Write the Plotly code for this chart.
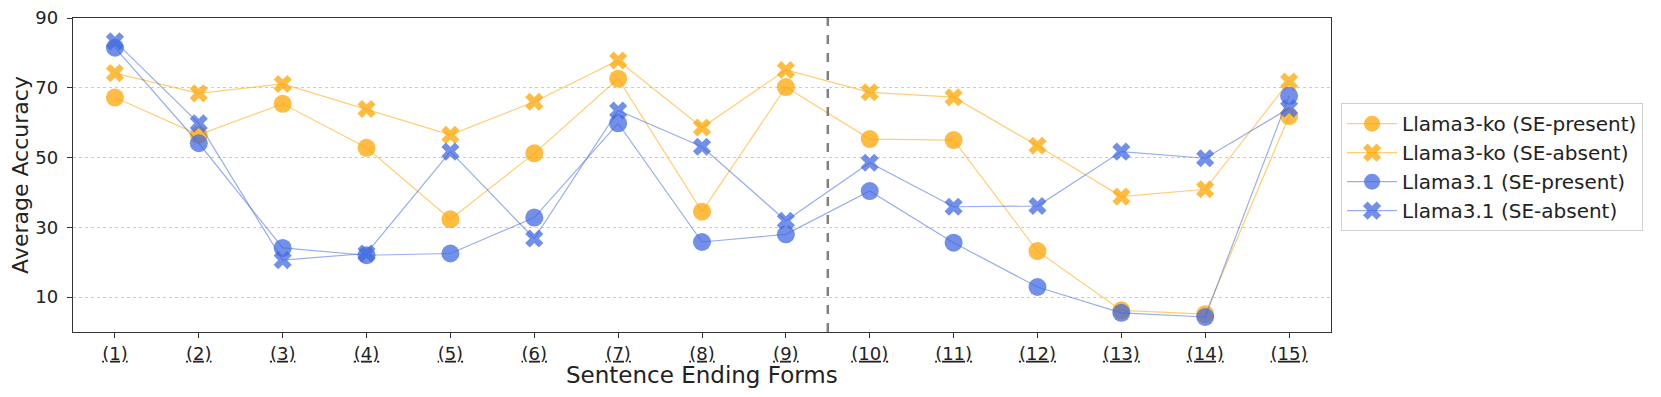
import plotly.graph_objects as go

# sentence ending forms (1)..(15)
forms = list(range(1, 16))
form_labels = ["<u>(%d)</u>" % i for i in forms]

ko_present = [67.2, 56.5, 65.4, 52.8, 32.3, 51.2, 72.6, 34.5, 70.2, 55.3, 55.0, 23.2, 6.2, 5.1, 61.9]
ko_absent = [74.2, 68.4, 71.1, 63.9, 56.5, 66.0, 77.8, 58.6, 75.1, 68.7, 67.3, 53.4, 38.8, 40.9, 71.8]
l31_present = [81.5, 54.1, 24.1, 22.0, 22.5, 32.8, 59.8, 25.8, 28.0, 40.4, 25.6, 12.9, 5.5, 4.3, 67.7]
l31_absent = [83.3, 59.8, 20.6, 22.5, 51.7, 26.8, 63.5, 53.1, 31.9, 48.5, 35.9, 36.1, 51.7, 49.8, 64.1]

divider = 9.5
y_ticks = [10, 30, 50, 70, 90]

orange = "255,165,0"
blue = "65,105,225"

series = [
    ("Llama3-ko (SE-present)", ko_present, orange, "circle", 18),
    ("Llama3-ko (SE-absent)", ko_absent, orange, "x", 16),
    ("Llama3.1 (SE-present)", l31_present, blue, "circle", 18),
    ("Llama3.1 (SE-absent)", l31_absent, blue, "x", 16),
]

fig = go.Figure()

for name, vals, rgb, sym, size in series:
    fig.add_trace(go.Scatter(
        x=forms, y=vals, name=name, mode="lines+markers",
        line=dict(color="rgba(%s,0.55)" % rgb, width=1.2),
        marker=dict(symbol=sym, size=size, color="rgba(%s,0.74)" % rgb,
                    line=dict(width=0)),
    ))

# dashed separator between (9) and (10)
fig.add_shape(type="line", xref="x", yref="paper", x0=divider, x1=divider, y0=0, y1=1,
              line=dict(color="grey", width=2.5, dash="dash"))

# x axis title as an annotation, bottom edge on the figure edge
fig.add_annotation(text="Sentence Ending Forms", xref="paper", yref="paper",
                   x=0.5, y=-0.181, xanchor="center", yanchor="bottom",
                   showarrow=False, borderpad=0, font=dict(size=23))

# page body has an 8px default margin, so the figure is sized to fit inside it
fig.update_layout(
    width=1645, height=381,
    margin=dict(l=65, r=316, t=10, b=57),
    plot_bgcolor="white", paper_bgcolor="white",
    font=dict(family="DejaVu Sans", size=18, color="#222"),
    legend=dict(x=1.008, y=0.525, xanchor="left", yanchor="middle",
                bordercolor="#d0d0d0", borderwidth=1, font=dict(size=20),
                itemwidth=50, tracegroupgap=0),
)

fig.update_xaxes(
    range=[0.5, 15.5], tickmode="array", tickvals=forms, ticktext=form_labels,
    showline=True, mirror=True, linecolor="#333", linewidth=1.3,
    ticks="outside", ticklen=5, tickcolor="#333", showgrid=False, zeroline=False,
    automargin=False, ticklabelstandoff=0,
)

fig.update_yaxes(
    range=[0, 90], tickmode="array", tickvals=y_ticks,
    title=dict(text="Average Accuracy", font=dict(size=22), standoff=8),
    showline=True, mirror=True, linecolor="#333", linewidth=1.3,
    ticks="outside", ticklen=5, tickcolor="#333",
    showgrid=True, gridcolor="#cccccc", griddash="dot", gridwidth=1, zeroline=False,
    automargin=False, ticklabelstandoff=5, ticklabeloverflow="allow",
)

fig.write_html("out.html")
